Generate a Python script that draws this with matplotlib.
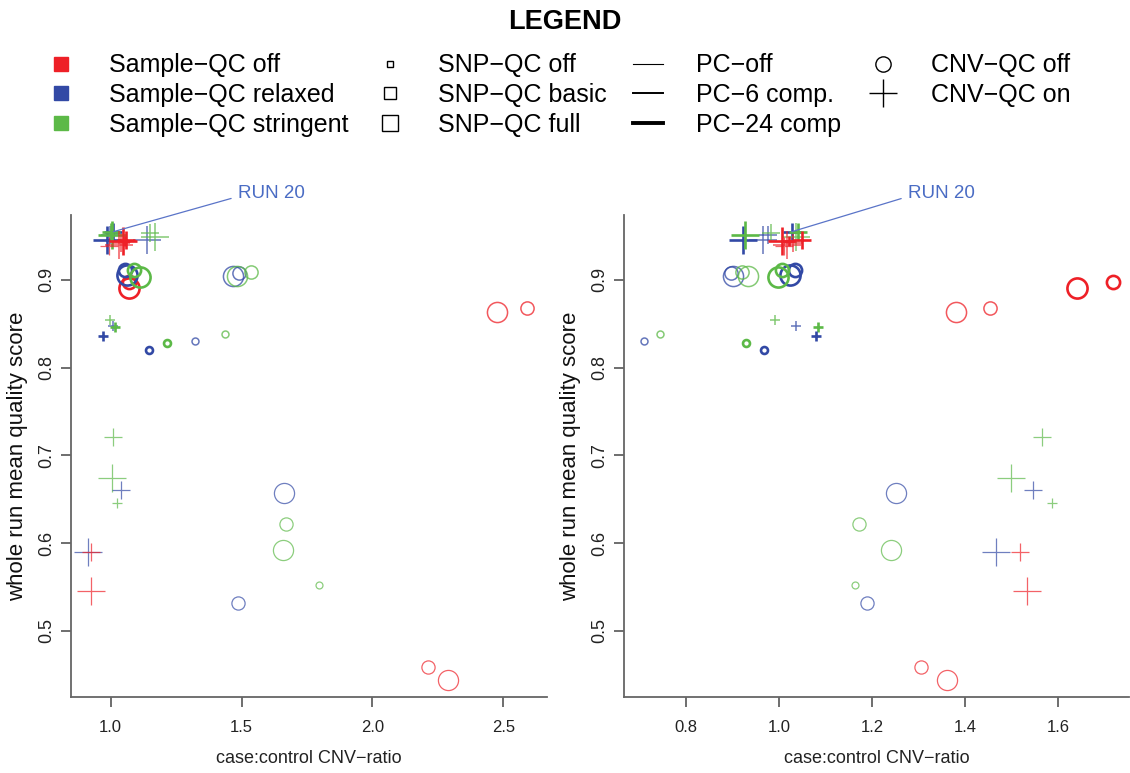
import matplotlib
matplotlib.use("Agg")
import matplotlib.pyplot as plt
from matplotlib.lines import Line2D

plt.rcParams['font.family'] = ['Liberation Sans', 'DejaVu Sans']

# run attributes: sample-QC (0 off, 1 relaxed, 2 stringent), SNP-QC (0 off, 1 basic, 2 full),
# PC (0 off, 1 6 comp, 2 24 comp), CNV-QC (0 off, 1 on)
sample_qc = [0, 0, 0, 0, 1, 1, 2, 2, 1, 1, 2, 2, 1, 2, 1, 2, 1, 2, 2, 2, 1, 0, 0,
             2, 1, 2, 1, 2, 2, 1, 2, 1, 0, 0,
             1, 1, 1, 1, 2, 2, 2, 2, 0, 0, 0, 0, 0, 0]
snp_qc = [2, 1, 2, 1, 2, 1, 2, 1, 2, 1, 2, 1, 0, 0, 0, 0, 2, 1, 2, 0, 1, 1, 2,
          0, 0, 0, 0, 1, 2, 1, 0, 2, 1, 2,
          2, 1, 2, 1, 2, 1, 1, 2, 2, 1, 2, 1, 0, 1]
pc = [1, 1, 2, 2, 1, 1, 1, 1, 2, 2, 2, 2, 2, 2, 1, 1, 0, 0, 0, 0, 0, 0, 0,
      1, 1, 2, 2, 0, 0, 0, 0, 0, 0, 0,
      2, 2, 1, 1, 2, 2, 1, 1, 2, 2, 1, 1, 2, 0]
cnv_qc = [0] * 23 + [1] * 25
score = [0.864, 0.868, 0.891, 0.898, 0.904, 0.908, 0.905, 0.909, 0.906, 0.911, 0.903, 0.911,
         0.820, 0.828, 0.830, 0.838, 0.657, 0.622, 0.592, 0.552, 0.532, 0.459, 0.444,
         0.854, 0.847, 0.846, 0.836, 0.721, 0.674, 0.661, 0.646, 0.590, 0.590, 0.545,
         0.946, 0.955, 0.946, 0.951, 0.951, 0.955, 0.953, 0.949, 0.944, 0.946, 0.940, 0.942,
         0.944, 0.939]
# case:control CNV-ratio, left and right panel
ratio_left = [2.475, 2.591, 1.071, 1.068, 1.466, 1.490, 1.482, 1.535, 1.061, 1.055, 1.112, 1.087,
              1.146, 1.214, 1.322, 1.436, 1.662, 1.669, 1.660, 1.794, 1.488, 2.214, 2.290,
              0.997, 1.010, 1.017, 0.972, 1.010, 1.004, 1.039, 1.025, 0.915, 0.924, 0.924,
              0.985, 1.010, 1.138, 0.997, 1.004, 1.000, 1.150, 1.170, 1.048, 1.060, 1.030, 1.040,
              1.055, 0.995]
ratio_right = [1.380, 1.454, 1.640, 1.718, 0.901, 0.897, 0.932, 0.919, 1.023, 1.034, 0.998, 1.005,
               0.967, 0.928, 0.709, 0.743, 1.251, 1.172, 1.241, 1.163, 1.189, 1.306, 1.360,
               0.991, 1.035, 1.084, 1.079, 1.565, 1.499, 1.547, 1.588, 1.466, 1.518, 1.534,
               0.922, 1.027, 0.966, 0.975, 0.926, 1.040, 0.983, 1.037, 1.005, 1.048, 1.016, 1.030,
               1.020, 1.010]
run20 = 35

sample_labels = ['Sample\u2212QC off', 'Sample\u2212QC relaxed', 'Sample\u2212QC stringent']
snp_labels = ['SNP\u2212QC off', 'SNP\u2212QC basic', 'SNP\u2212QC full']
pc_labels = ['PC\u2212off', 'PC\u22126 comp.', 'PC\u221224 comp']
cnv_labels = ['CNV\u2212QC off', 'CNV\u2212QC on']

colors = ['#ee2027', '#3249a5', '#5cb947']
circle_ms = [5, 9.5, 14.5]
plus_ms = [7.5, 13.5, 19.5]
pc_lw = [0.9, 1.1, 1.9]
pc_alpha = [0.7, 0.75, 1.0]

fig = plt.figure(figsize=(11.3, 7.73), dpi=100)
axL = fig.add_axes([0.0628, 0.0979, 0.4215, 0.6239])
axR = fig.add_axes([0.5522, 0.0979, 0.4472, 0.6239])

panels = [
    (axL, ratio_left, (0.848, 2.668), [1.0, 1.5, 2.0, 2.5], 1.486),
    (axR, ratio_right, (0.6657, 1.7535), [0.8, 1.0, 1.2, 1.4, 1.6], 1.277),
]

for ax, xs, xlim, xticks, txt_x in panels:
    for i in range(len(score)):
        if cnv_qc[i] == 0:
            mk, ms = 'o', circle_ms[snp_qc[i]]
        else:
            mk, ms = '+', plus_ms[snp_qc[i]]
        ax.plot(xs[i], score[i], marker=mk, ms=ms, mew=pc_lw[pc[i]], alpha=pc_alpha[pc[i]],
                mec=colors[sample_qc[i]], mfc='none', ls='none')
    ax.annotate('RUN 20', xy=(xs[run20], score[run20]), xytext=(txt_x, 0.999),
                fontsize=13.5, color='#4a6cc4', ha='left', va='center',
                annotation_clip=False,
                arrowprops=dict(arrowstyle='-', color='#5a74c8', lw=0.9,
                                relpos=(0, 0.3), shrinkA=3, shrinkB=0))
    ax.set_xlim(*xlim)
    ax.set_ylim(0.424, 0.974)
    ax.set_xticks(xticks)
    ax.set_xticklabels([f'{t:.1f}' for t in xticks])
    ax.set_yticks([0.5, 0.6, 0.7, 0.8, 0.9])
    for s in ['top', 'right']:
        ax.spines[s].set_visible(False)
    for s in ['left', 'bottom']:
        ax.spines[s].set_color('#666666')
        ax.spines[s].set_linewidth(1.3)
    ax.tick_params(length=7, width=1.2, color='#555555', labelcolor='#222222')
    ax.tick_params(axis='x', labelsize=12, pad=9)
    ax.tick_params(axis='y', labelsize=13, pad=4, labelrotation=90)
    for lbl in ax.get_yticklabels():
        lbl.set_va('center')
    ax.set_xlabel('case:control CNV\u2212ratio', fontsize=13, labelpad=11, color='#222222')
    ax.set_ylabel('whole run mean quality score', fontsize=16, labelpad=8, color='#111111')

# legend
handles = []
for c in colors:
    handles.append(Line2D([], [], marker='s', ms=9.5, mfc=c, mec=c, ls='none'))
for ms in [5, 8, 11]:
    handles.append(Line2D([], [], marker='s', ms=ms, mfc='none', mec='black', mew=1, ls='none'))
for lw in [0.8, 1.4, 2.8]:
    handles.append(Line2D([], [], color='black', lw=lw))
handles.append(Line2D([], [], marker='o', ms=11, mfc='none', mec='black', mew=1, ls='none'))
handles.append(Line2D([], [], marker='+', ms=20, mec='black', mew=1, ls='none'))
labels = sample_labels + snp_labels + pc_labels + cnv_labels

fig.legend(handles, labels, ncol=4, loc='center', bbox_to_anchor=(0.494, 1 - 95 / 773),
           frameon=False, fontsize=18, handlelength=1.2, handletextpad=1.3,
           columnspacing=1.08, labelspacing=0.23, borderpad=0)
fig.text(0.5, 1 - 22 / 773, 'LEGEND', ha='center', va='center', fontsize=19.5, fontweight='bold')

fig.savefig('out.png', dpi=100)
